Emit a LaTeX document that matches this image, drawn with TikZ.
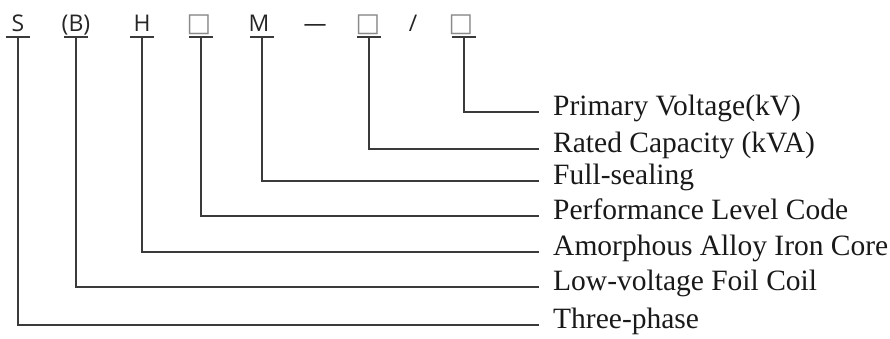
\documentclass[tikz,border=0pt]{standalone}
\usepackage{fontspec}
\setmainfont{Liberation Serif}
\newfontfamily\codesans{Open Sans}
\newfontfamily\boxsans{DejaVu Sans}
\definecolor{linegray}{HTML}{3A3A3A}
\definecolor{boxgray}{HTML}{8A8A8A}
\newcommand{\emptybox}{{\boxsans\fontsize{26}{30}\selectfont\color{boxgray}\symbol{"25A1}}}
\begin{document}
\begin{tikzpicture}[x=1pt,y=-1pt,
  code/.style={font=\codesans\fontsize{23}{27}\selectfont,anchor=base,inner sep=0pt,text=black!85},
  lbl/.style={font=\fontsize{29.5}{35}\selectfont,anchor=west,inner xsep=14pt,inner ysep=0pt,
    text height=0.75em,text depth=0.11em,text=black!90},
  wire/.style={draw=linegray,line width=1.2pt}]
  \useasboundingbox (0,0) rectangle (890,338);
  % model code
  \node[code] (sS)     at ( 18,31) {S};
  \node[code] (sB)     at ( 76,31) {(B)};
  \node[code] (sH)     at (142,31) {H};
  \node[code] (sP)     at (199,31) {\emptybox};
  \node[code] (sM)     at (259,31) {M};
  \node[code] (sDash)  at (315,31) {\symbol{"2014}};
  \node[code] (sR)     at (368,31) {\emptybox};
  \node[code] (sSlash) at (413,31) {/};
  \node[code] (sV)     at (461,31) {\emptybox};
  % points under the code
  \coordinate (uS) at ( 18,37);
  \coordinate (uB) at ( 76,37);
  \coordinate (uH) at (142,37);
  \coordinate (uP) at (201,37);
  \coordinate (uM) at (262,37);
  \coordinate (uR) at (369,37);
  \coordinate (uV) at (464,37);
  % meanings
  \node[lbl] (lV) at (539,112) {Primary Voltage(kV)};
  \node[lbl] (lR) at (539,149) {Rated Capacity (kVA)};
  \node[lbl] (lM) at (539,181) {Full-sealing};
  \node[lbl] (lP) at (539,216) {Performance Level Code};
  \node[lbl] (lH) at (539,252) {Amorphous Alloy Iron Core};
  \node[lbl] (lB) at (539,287) {Low-voltage Foil Coil};
  \node[lbl] (lS) at (539,325) {Three-phase};
  % underlines
  \draw[wire] (uS) +(-12,0) -- +(12,0);
  \draw[wire] (uB) +(-12,0) -- +(12,0);
  \draw[wire] (uH) +(-12,0) -- +(12,0);
  \draw[wire] (uP) +(-12,0) -- +(12,0);
  \draw[wire] (uM) +(-12,0) -- +(12,0);
  \draw[wire] (uR) +(-12,0) -- +(12,0);
  \draw[wire] (uV) +(-12,0) -- +(12,0);
  % leaders
  \draw[wire] (uV) |- (lV.west);
  \draw[wire] (uR) |- (lR.west);
  \draw[wire] (uM) |- (lM.west);
  \draw[wire] (uP) |- (lP.west);
  \draw[wire] (uH) |- (lH.west);
  \draw[wire] (uB) |- (lB.west);
  \draw[wire] (uS) |- (lS.west);
\end{tikzpicture}
\end{document}
